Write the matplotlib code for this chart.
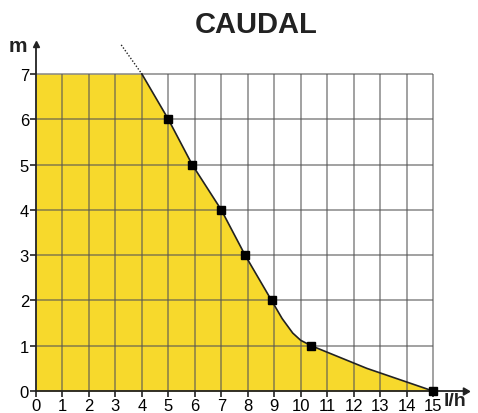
import matplotlib.pyplot as plt
import numpy as np

plt.rcParams['font.family'] = ['Liberation Sans', 'DejaVu Sans']

# pump curve
flow = [4.0, 5.0, 5.9, 7.0, 7.9, 8.9, 9.3, 9.7, 10.0, 10.4, 12.5, 15.0]
head = [7.0, 6.0, 5.0, 4.0, 3.0, 2.0, 1.6, 1.28, 1.12, 1.0, 0.5, 0.0]
mark_flow = [5.0, 5.9, 7.0, 7.9, 8.9, 10.4, 15.0]
mark_head = [6.0, 5.0, 4.0, 3.0, 2.0, 1.0, 0.0]
dot_flow = [3.15, 4.0]
dot_head = [7.7, 7.0]
x_ticks = list(range(0, 16))
y_ticks = list(range(0, 8))

fig = plt.figure(figsize=(4.78, 4.14), dpi=100)
ax = fig.add_axes([0.0753, 0.0531, 0.897, 0.838])
ax.set_xlim(0, 16.2)
ax.set_ylim(0, 7.66)

# yellow area under the curve
fx = [0] + flow
fy = [7] + head
ax.fill_between(fx, fy, 0, color='#f7d92c', lw=0, zorder=1)

# grid
ax.vlines(x_ticks[1:], 0, 7, color='#555555', lw=1.1, alpha=0.7, zorder=2)
ax.hlines(y_ticks[1:], 0, 15, color='#555555', lw=1.1, alpha=0.7, zorder=2)

ax.plot(flow, head, color='#222222', lw=1.2, zorder=3)
ax.plot(dot_flow, dot_head, color='#222222', lw=1.0, ls=(0, (1, 1.3)), zorder=3)
ax.plot(mark_flow, mark_head, ls='none', marker='s', ms=6, color='black', zorder=4, clip_on=False)

for s in ['top', 'right']:
    ax.spines[s].set_visible(False)
ax.spines['left'].set_color('#222222')
ax.spines['bottom'].set_color('#222222')
ax.spines['left'].set_linewidth(1.3)
ax.spines['bottom'].set_linewidth(1.3)

# arrow heads
ax.plot(16.2, 0, marker=(3, 0, -90), ms=6, color='#222222', clip_on=False, zorder=5)
ax.plot(0, 7.66, marker='^', ms=5, color='#222222', clip_on=False, zorder=5)

ax.set_xticks(x_ticks)
ax.set_yticks(y_ticks)
ax.tick_params(axis='both', labelsize=12, length=4, width=1.2, color='#222222', pad=1)

fig.text(0.535, 0.94, 'CAUDAL', ha='center', va='center', fontsize=21, fontweight='bold', color='#222222')
fig.text(0.038, 0.887, 'm', ha='center', va='center', fontsize=15, fontweight='bold', color='#222222')
fig.text(0.952, 0.03, 'l/h', ha='center', va='center', fontsize=14, fontweight='bold', color='#222222')

fig.savefig('out.png', dpi=100)
